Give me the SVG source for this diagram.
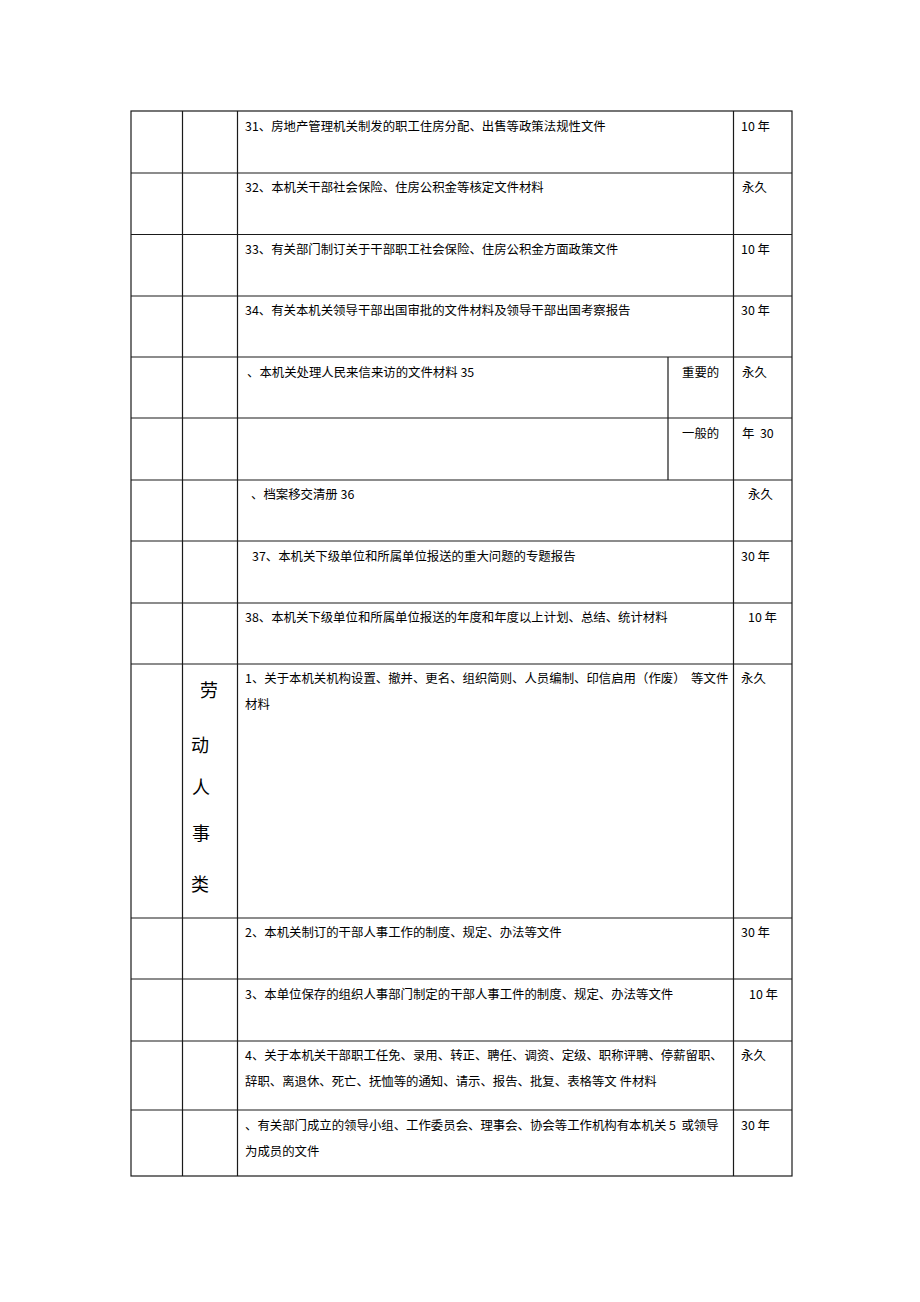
<svg xmlns="http://www.w3.org/2000/svg" width="920" height="1302" viewBox="0 0 920 1302">
<style>
.ln{stroke:#1a1a1a;stroke-width:1.2;fill:none}
.t{font-family:"Noto Sans CJK SC","Liberation Sans",sans-serif;font-size:12.4px;fill:#000;white-space:pre}
.v{font-family:"Noto Sans CJK SC","Liberation Sans",sans-serif;font-size:18px;fill:#000}
</style>
<rect width="920" height="1302" fill="#fff"/>
<g id="grid">
<rect class="ln" x="131" y="111" width="661" height="1065"/>
<line class="ln" x1="182.5" y1="111" x2="182.5" y2="1176"/>
<line class="ln" x1="237.5" y1="111" x2="237.5" y2="1176"/>
<line class="ln" x1="733.5" y1="111" x2="733.5" y2="1176"/>
<line class="ln" x1="668" y1="357" x2="668" y2="480"/>
<line class="ln" x1="131" y1="173" x2="792" y2="173"/>
<line class="ln" x1="131" y1="234.5" x2="792" y2="234.5"/>
<line class="ln" x1="131" y1="296" x2="792" y2="296"/>
<line class="ln" x1="131" y1="357" x2="792" y2="357"/>
<line class="ln" x1="131" y1="418" x2="792" y2="418"/>
<line class="ln" x1="131" y1="480" x2="792" y2="480"/>
<line class="ln" x1="131" y1="541" x2="792" y2="541"/>
<line class="ln" x1="131" y1="603" x2="792" y2="603"/>
<line class="ln" x1="131" y1="664" x2="792" y2="664"/>
<line class="ln" x1="131" y1="918" x2="792" y2="918"/>
<line class="ln" x1="131" y1="979" x2="792" y2="979"/>
<line class="ln" x1="131" y1="1041" x2="792" y2="1041"/>
<line class="ln" x1="131" y1="1110" x2="792" y2="1110"/>
</g>
<g id="row31"><text class="t" x="245" y="131">31、房地产管理机关制发的职工住房分配、出售等政策法规性文件</text><text class="t" x="741" y="131">10 年</text></g>
<g id="row32"><text class="t" x="245" y="192">32、本机关干部社会保险、住房公积金等核定文件材料</text><text class="t" x="742" y="192">永久</text></g>
<g id="row33"><text class="t" x="245" y="254">33、有关部门制订关于干部职工社会保险、住房公积金方面政策文件</text><text class="t" x="741" y="254">10 年</text></g>
<g id="row34"><text class="t" x="245" y="315">34、有关本机关领导干部出国审批的文件材料及领导干部出国考察报告</text><text class="t" x="741" y="315">30 年</text></g>
<g id="row35"><text class="t" x="247" y="377">、本机关处理人民来信来访的文件材料 35</text><text class="t" x="682" y="377">重要的</text><text class="t" x="742" y="377">永久</text></g>
<g id="row35b"><text class="t" x="682" y="438">一般的</text><text class="t" x="742" y="438">年  30</text></g>
<g id="row36"><text class="t" x="251" y="499">、档案移交清册 36</text><text class="t" x="748" y="499">永久</text></g>
<g id="row37"><text class="t" x="252" y="561">37、本机关下级单位和所属单位报送的重大问题的专题报告</text><text class="t" x="741" y="561">30 年</text></g>
<g id="row38"><text class="t" x="245" y="622">38、本机关下级单位和所属单位报送的年度和年度以上计划、总结、统计材料</text><text class="t" x="748" y="622">10 年</text></g>
<g id="category"><text class="v" x="200" y="697">劳</text><text class="v" x="191" y="752">动</text><text class="v" x="192" y="794">人</text><text class="v" x="192" y="840">事</text><text class="v" x="191" y="891">类</text></g>
<g id="row1"><text class="t" x="245" y="683">1、关于本机关机构设置、撤并、更名、组织简则、人员编制、印信启用（作废）  等文件</text><text class="t" x="245" y="709">材料</text><text class="t" x="741" y="683">永久</text></g>
<g id="row2"><text class="t" x="245" y="937">2、本机关制订的干部人事工作的制度、规定、办法等文件</text><text class="t" x="741" y="937">30 年</text></g>
<g id="row3"><text class="t" x="245" y="999">3、本单位保存的组织人事部门制定的干部人事工件的制度、规定、办法等文件</text><text class="t" x="749" y="999">10 年</text></g>
<g id="row4"><text class="t" x="245" y="1060">4、关于本机关干部职工任免、录用、转正、聘任、调资、定级、职称评聘、停薪留职、</text><text class="t" x="245" y="1086">辞职、离退休、死亡、抚恤等的通知、请示、报告、批复、表格等文 件材料</text><text class="t" x="741" y="1060">永久</text></g>
<g id="row5"><text class="t" x="245" y="1130">、有关部门成立的领导小组、工作委员会、理事会、协会等工作机构有本机关 5  或领导</text><text class="t" x="245" y="1156">为成员的文件</text><text class="t" x="741" y="1130">30 年</text></g>
</svg>
